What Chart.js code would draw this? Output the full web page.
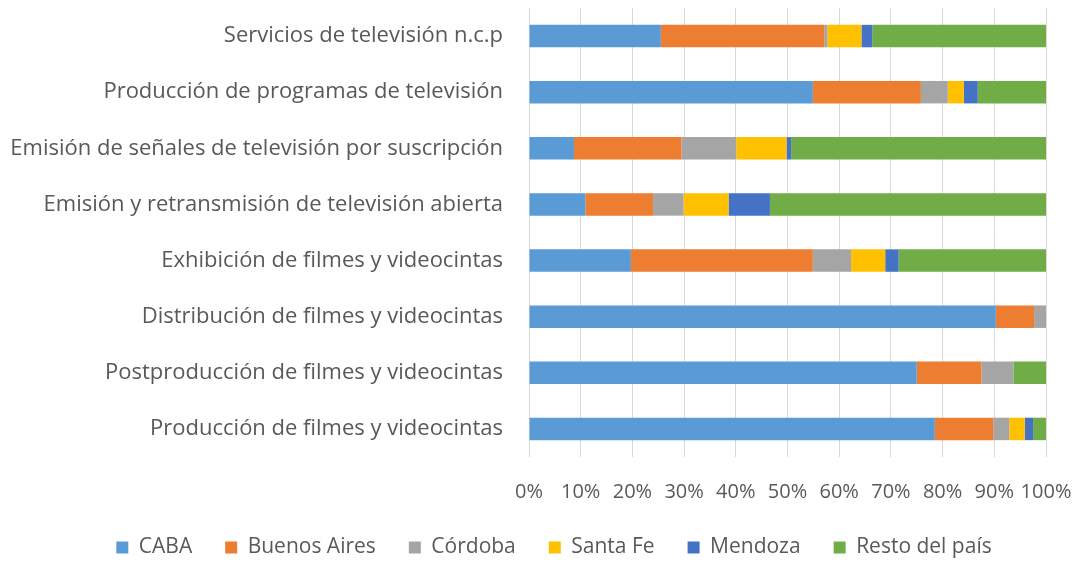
<!DOCTYPE html>
<html>
<head>
<meta charset="utf-8">
<script src="https://cdn.jsdelivr.net/npm/chart.js@4"></script>
<style>
  html, body { margin: 0; padding: 0; background: #fff; }
  #wrap { width: 1083px; height: 561px; }
</style>
</head>
<body>
<div id="wrap"><canvas id="chart"></canvas></div>
<script>
const categories = [
    'Servicios de televisión n.c.p',
    'Producción de programas de televisión',
    'Emisión de señales de televisión por suscripción',
    'Emisión y retransmisión de televisión abierta',
    'Exhibición de filmes y videocintas',
    'Distribución de filmes y videocintas',
    'Postproducción de filmes y videocintas',
    'Producción de filmes y videocintas'
];

// percentage share of each region, per category (top to bottom)
const caba        = [25.5, 54.9,  8.7, 10.9, 19.7, 90.3, 75.0, 78.5];
const buenosAires = [31.6, 20.9, 20.8, 13.1, 35.2,  7.4, 12.5, 11.3];
const cordoba     = [ 0.6,  5.2, 10.6,  5.9,  7.4,  2.3,  6.2,  3.1];
const santaFe     = [ 6.6,  3.1,  9.7,  8.7,  6.6,  0.0,  0.0,  3.0];
const mendoza     = [ 2.1,  2.7,  0.9,  8.0,  2.6,  0.0,  0.0,  1.6];
const restoPais   = [33.6, 13.2, 49.3, 53.4, 28.5,  0.0,  6.3,  2.5];

const xTicks = [0, 10, 20, 30, 40, 50, 60, 70, 80, 90, 100];

const textColor = '#595959';
const fontFamily = '"Open Sans", sans-serif';

const series = [
    { label: 'CABA', data: caba, color: '#5B9BD5' },
    { label: 'Buenos Aires', data: buenosAires, color: '#ED7D31' },
    { label: 'Córdoba', data: cordoba, color: '#A5A5A5' },
    { label: 'Santa Fe', data: santaFe, color: '#FFC000' },
    { label: 'Mendoza', data: mendoza, color: '#4472C4' },
    { label: 'Resto del país', data: restoPais, color: '#70AD47' }
];

// the legend padding also pads it vertically; pin its height and
// nudge it so it sits under the whole picture like the original
const legendBox = {
    id: 'legendBox',
    beforeInit(chart) {
        const fit = chart.legend.fit;
        chart.legend.fit = function () {
            fit.call(this);
            this.height = 61;
        };
    },
    afterLayout(chart) {
        chart.legend.left += 31;
        chart.legend.right += 31;
        chart.legend.top += 4;
        chart.legend.bottom += 4;
    }
};

new Chart(document.getElementById('chart'), {
    type: 'bar',
    data: {
        labels: categories,
        datasets: series.map(s => ({
            label: s.label,
            data: s.data,
            backgroundColor: s.color,
            borderWidth: 0,
            categoryPercentage: 1,
            barPercentage: 0.4
        }))
    },
    options: {
        indexAxis: 'y',
        responsive: true,
        maintainAspectRatio: false,
        animation: false,
        layout: { padding: { top: 8, right: 37, left: 0, bottom: 0 } },
        plugins: {
            tooltip: { enabled: false },
            legend: {
                position: 'bottom',
                labels: {
                    color: textColor,
                    font: { family: fontFamily, size: 21 },
                    boxWidth: 12,
                    boxHeight: 12,
                    padding: 33
                }
            }
        },
        scales: {
            x: {
                stacked: true,
                min: 0,
                max: 100,
                afterBuildTicks: axis => { axis.ticks = xTicks.map(v => ({ value: v })); },
                grid: { color: '#d9d9d9', lineWidth: 1, drawTicks: false },
                border: { display: false },
                ticks: {
                    color: textColor,
                    font: { family: fontFamily, size: 20 },
                    padding: 23,
                    autoSkip: false,
                    maxRotation: 0,
                    minRotation: 0,
                    callback: v => v + '%'
                },
                afterFit: axis => {
                    axis.height = 43;
                    axis.paddingLeft = 0;
                    axis.paddingRight = 0;
                }
            },
            y: {
                stacked: true,
                grid: { display: false, drawTicks: false },
                border: { display: false },
                ticks: {
                    color: textColor,
                    font: { family: fontFamily, size: 22 },
                    padding: 26
                },
                afterFit: axis => {
                    axis.width = 529;
                    axis.paddingTop = 0;
                    axis.paddingBottom = 0;
                }
            }
        }
    },
    plugins: [legendBox]
});
</script>
</body>
</html>
